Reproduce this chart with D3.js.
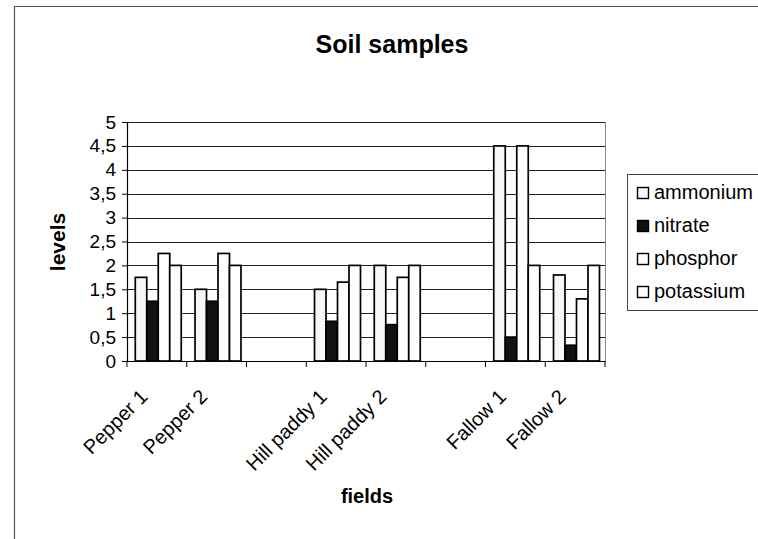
<!DOCTYPE html>
<html>
<head>
<meta charset="utf-8">
<script src="https://cdn.jsdelivr.net/npm/d3@7"></script>
<style>
  body { margin: 0; background: #fff; }
  svg { font-family: "Liberation Sans", Arial, sans-serif; }
</style>
</head>
<body>
<div id="chart"></div>
<script>
// soil samples chart

var fields = ["Pepper 1", "Pepper 2", "", "Hill paddy 1", "Hill paddy 2", "", "Fallow 1", "Fallow 2"];
var seriesNames = ["ammonium", "nitrate", "phosphor", "potassium"];
var ammonium  = [1.75, 1.5, null, 1.5, 2, null, 4.5, 1.8];
var nitrate   = [1.25, 1.25, null, 0.83, 0.76, null, 0.5, 0.33];
var phosphor  = [2.25, 2.25, null, 1.65, 1.75, null, 4.5, 1.3];
var potassium = [2, 2, null, 2, 2, null, 2, 2];
var yTicks = [0, 0.5, 1, 1.5, 2, 2.5, 3, 3.5, 4, 4.5, 5];

var allSeries = [ammonium, nitrate, phosphor, potassium];
var fills = ["#f7f7f7", "#111", "#fff", "#fff"];

var width = 758, height = 539;
var plotLeft = 127, plotRight = 605, plotTop = 122, plotBottom = 361;

var svg = d3.select('#chart').append('svg')
  .attr('width', width)
  .attr('height', height);

// outer frame
svg.append('path')
  .attr('d', 'M14.5,' + height + 'V6.5H' + width)
  .attr('fill', 'none')
  .attr('stroke', '#555')
  .attr('stroke-width', 1.2);

var x0 = d3.scaleBand()
  .domain(d3.range(fields.length))
  .range([plotLeft, plotRight])
  .padding(0);

var x1 = d3.scaleBand()
  .domain(seriesNames)
  .range([0, x0.bandwidth()])
  .paddingInner(0)
  .paddingOuter(0.6)
  .align(0.6);

var y = d3.scaleLinear().domain([0, 5]).range([plotBottom, plotTop]);

// gridlines
svg.append('g').selectAll('line').data(yTicks.slice(1)).enter().append('line')
  .attr('x1', plotLeft).attr('x2', plotRight)
  .attr('y1', function(d) { return Math.round(y(d)) + 0.5; })
  .attr('y2', function(d) { return Math.round(y(d)) + 0.5; })
  .attr('stroke', '#222')
  .attr('stroke-width', 1.1);

// right edge of plot
svg.append('line')
  .attr('x1', plotRight + 0.5).attr('x2', plotRight + 0.5)
  .attr('y1', plotTop).attr('y2', plotBottom)
  .attr('stroke', '#888');

// bars
var rows = fields.map(function(f, i) {
  return seriesNames.map(function(s, j) { return {i: i, s: s, j: j, v: allSeries[j][i]}; })
    .filter(function(d) { return d.v != null; });
});

var groups = svg.append('g').selectAll('g').data(rows).enter().append('g')
  .attr('transform', function(d, i) { return 'translate(' + x0(i) + ',0)'; });

groups.selectAll('rect').data(function(d) { return d; }).enter().append('rect')
  .attr('x', function(d) { return x1(d.s); })
  .attr('y', function(d) { return y(d.v); })
  .attr('width', x1.bandwidth())
  .attr('height', function(d) { return y(0) - y(d.v); })
  .attr('fill', function(d) { return fills[d.j]; })
  .attr('stroke', '#000')
  .attr('stroke-width', 1.7);

// y axis
var yAxis = d3.axisLeft(y)
  .tickValues(yTicks)
  .tickSize(5)
  .tickPadding(6)
  .tickFormat(function(d) { return String(d).replace('.', ','); });

var yg = svg.append('g')
  .attr('transform', 'translate(' + plotLeft + ',0)')
  .call(yAxis);
yg.select('.domain').attr('stroke', '#000').attr('stroke-width', 1.2);
yg.selectAll('text').attr('font-size', 19).attr('fill', '#000')
  .attr('font-family', '"Liberation Sans", Arial, sans-serif');

// x axis
var xAxis = d3.axisBottom(x0)
  .tickSize(0)
  .tickFormat(function(i) { return fields[i]; });

var xg = svg.append('g')
  .attr('transform', 'translate(0,' + plotBottom + ')')
  .call(xAxis);
xg.select('.domain').attr('stroke', '#000').attr('stroke-width', 1.2);
xg.selectAll('text')
  .attr('font-size', 20)
  .attr('fill', '#000')
  .attr('font-family', '"Liberation Sans", Arial, sans-serif')
  .attr('text-anchor', 'end')
  .attr('dy', 0)
  .attr('y', 0)
  .attr('transform', 'translate(-8,37) rotate(-45)');

// category boundary ticks
svg.append('g').selectAll('line').data(d3.range(fields.length + 1)).enter().append('line')
  .attr('x1', function(i) { return plotLeft + i * x0.bandwidth(); })
  .attr('x2', function(i) { return plotLeft + i * x0.bandwidth(); })
  .attr('y1', plotBottom).attr('y2', plotBottom + 6)
  .attr('stroke', '#000');

// titles
svg.append('text')
  .attr('x', 392).attr('y', 53)
  .attr('text-anchor', 'middle')
  .attr('font-size', 25).attr('font-weight', 'bold')
  .text('Soil samples');

svg.append('text')
  .attr('transform', 'translate(65,242) rotate(-90)')
  .attr('text-anchor', 'middle')
  .attr('font-size', 21).attr('font-weight', 'bold')
  .text('levels');

svg.append('text')
  .attr('x', 367).attr('y', 503)
  .attr('text-anchor', 'middle')
  .attr('font-size', 20).attr('font-weight', 'bold')
  .text('fields');

// legend
var legend = svg.append('g');
legend.append('rect')
  .attr('x', 627.5).attr('y', 174.5)
  .attr('width', 140).attr('height', 136)
  .attr('fill', '#fff').attr('stroke', '#444');

var items = legend.selectAll('g.item').data(seriesNames).enter().append('g')
  .attr('class', 'item')
  .attr('transform', function(d, i) { return 'translate(637,' + (193 + i * 33) + ')'; });

items.append('rect')
  .attr('x', 0.5).attr('y', -5.5)
  .attr('width', 11).attr('height', 11)
  .attr('fill', function(d, i) { return fills[i]; })
  .attr('stroke', '#000').attr('stroke-width', 1.4);

items.append('text')
  .attr('x', 17).attr('y', 6)
  .attr('font-size', 20)
  .text(function(d) { return d; });
</script>
</body>
</html>
